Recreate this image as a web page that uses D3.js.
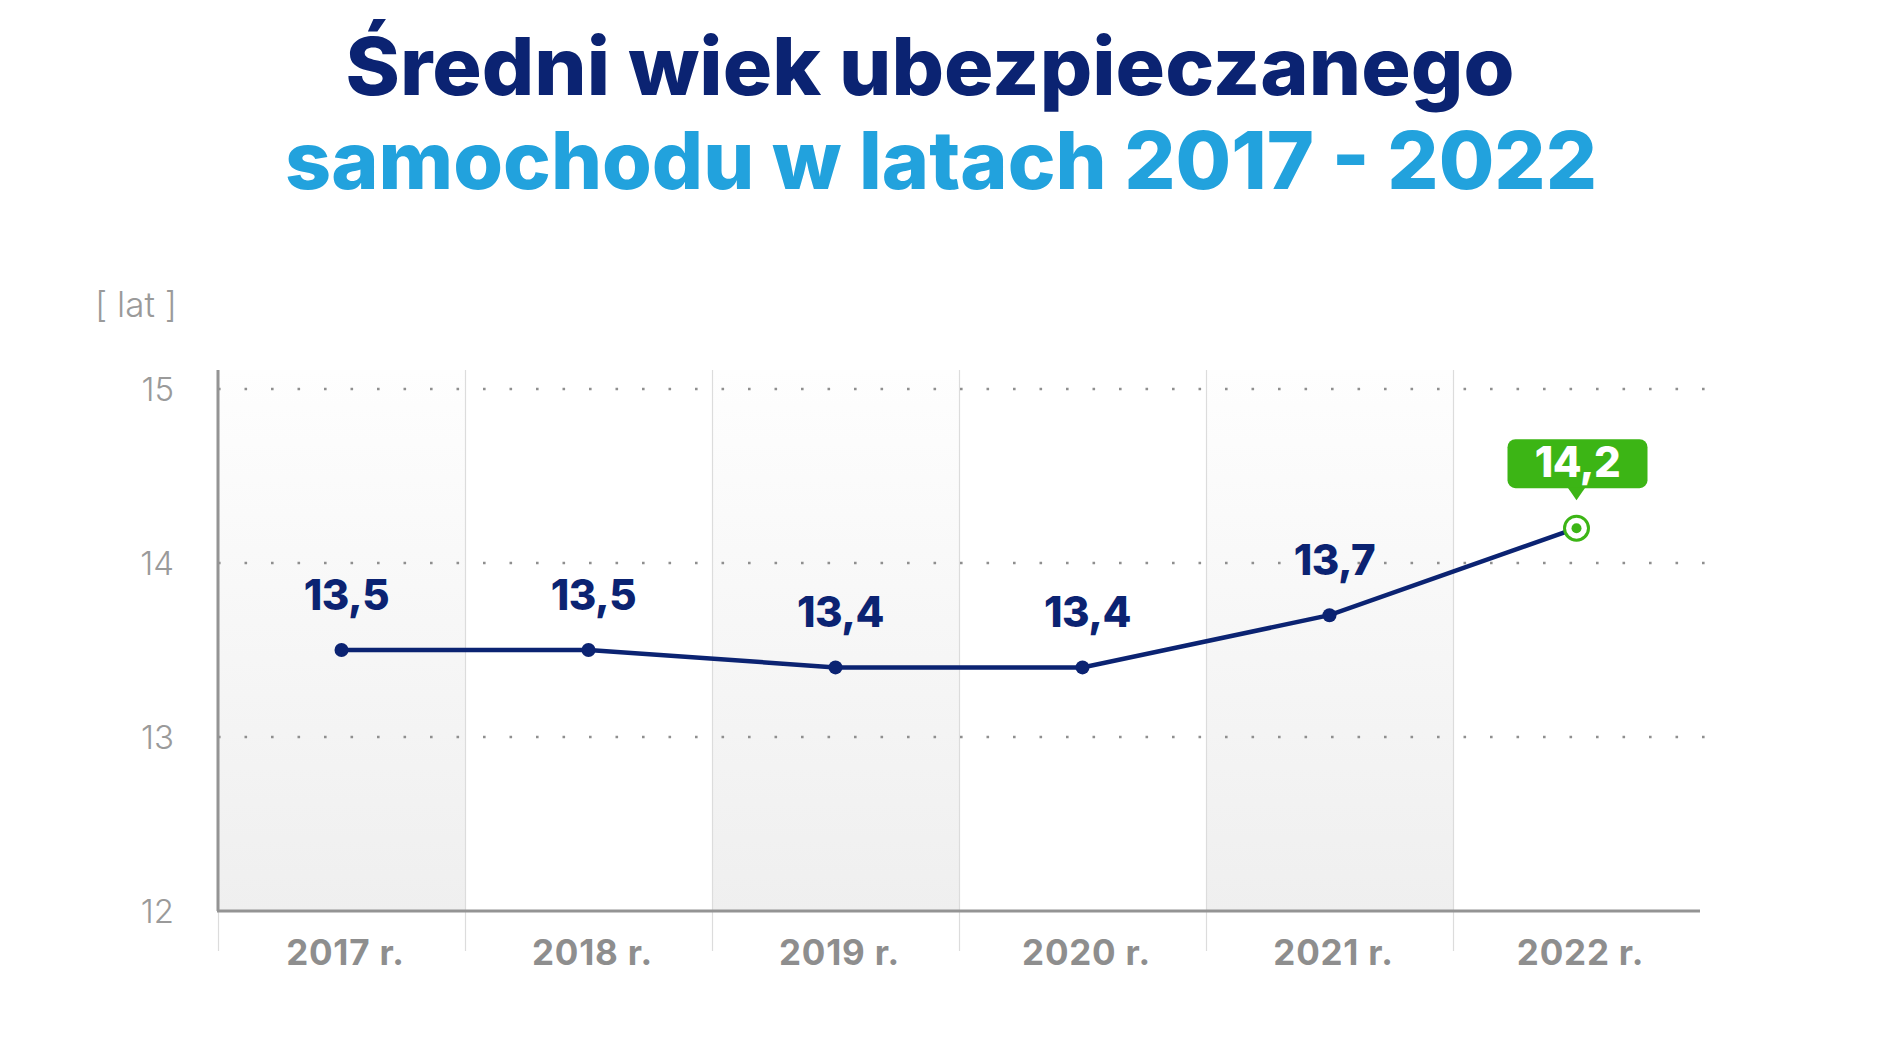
<!DOCTYPE html>
<html>
<head>
<meta charset="utf-8">
<script src="https://cdn.jsdelivr.net/npm/d3@7"></script>
<style>
  body { margin: 0; background: #fff; }
  svg { display: block; font-family: Inter, "Open Sans", sans-serif; }
</style>
</head>
<body>
<div id="chart"></div>
<script>
// dane: sredni wiek ubezpieczanego samochodu
var years = ["2017 r.", "2018 r.", "2019 r.", "2020 r.", "2021 r.", "2022 r."];
var values = [13.5, 13.5, 13.4, 13.4, 13.7, 14.2];
var yTicks = [12, 13, 14, 15];
var gridTicks = [13, 14, 15];

var width = 1880,
	height = 1060;

var navy = "#0b2372",
	blue = "#22a2dd",
	green = "#3cb515",
	grey = "#9a9a9a";

var plLocale = d3.formatLocale({ decimal: ",", thousands: " ", grouping: [3], currency: ["", " zł"] });
var fmt = plLocale.format(".1f");

var svg = d3.select("#chart")
	.append("svg")
	.attr("width", width)
	.attr("height", height);

// title
svg.append("text")
	.attr("x", 930).attr("y", 95)
	.attr("text-anchor", "middle")
	.attr("textLength", 1169).attr("lengthAdjust", "spacingAndGlyphs")
	.style("font-size", "80px").style("font-weight", 800)
	.style("fill", navy)
	.text("Średni wiek ubezpieczanego");

svg.append("text")
	.attr("x", 941).attr("y", 189)
	.attr("text-anchor", "middle")
	.attr("textLength", 1312).attr("lengthAdjust", "spacingAndGlyphs")
	.style("font-size", "80px").style("font-weight", 800)
	.style("fill", blue)
	.text("samochodu w latach 2017 - 2022");

var x = d3.scaleBand()
	.domain(years)
	.range([218, 1700])
	.padding(0);

var y = d3.scaleLinear()
	.domain([12, 15])
	.range([911, 389]);

// gradient for the grey bands
var defs = svg.append("defs");
var grad = defs.append("linearGradient")
	.attr("id", "band")
	.attr("x1", 0).attr("y1", 0).attr("x2", 0).attr("y2", 1);
grad.append("stop").attr("offset", "0%").attr("stop-color", "#fefefe");
grad.append("stop").attr("offset", "100%").attr("stop-color", "#efefef");

svg.selectAll("rect.band")
	.data(years.filter(function(d, i) { return i % 2 == 0; }))
	.enter().append("rect")
	.attr("class", "band")
	.attr("x", function(d) { return x(d); })
	.attr("y", 370)
	.attr("width", x.bandwidth())
	.attr("height", y(12) - 370)
	.style("fill", "url(#band)");

// vertical separators
svg.selectAll("line.sep")
	.data(years)
	.enter().append("line")
	.attr("class", "sep")
	.attr("x1", function(d) { return x(d) + 0.5; })
	.attr("x2", function(d) { return x(d) + 0.5; })
	.attr("y1", 370)
	.attr("y2", 951)
	.style("stroke", "#dcdcdc")
	.style("stroke-width", 1.2);

// dotted grid
svg.selectAll("line.grid")
	.data(gridTicks)
	.enter().append("line")
	.attr("class", "grid")
	.attr("x1", 218).attr("x2", 1708)
	.attr("y1", function(d) { return y(d); })
	.attr("y2", function(d) { return y(d); })
	.style("stroke", "#8f8f8f")
	.style("stroke-width", 2.6)
	.style("stroke-dasharray", "2.6 23.9");

// axes lines
svg.append("line")
	.attr("x1", 218).attr("x2", 218)
	.attr("y1", 370).attr("y2", y(12))
	.style("stroke", "#949494").style("stroke-width", 3);
svg.append("line")
	.attr("x1", 217).attr("x2", 1700)
	.attr("y1", y(12)).attr("y2", y(12))
	.style("stroke", "#949494").style("stroke-width", 3);

// y tick labels
svg.selectAll("text.ytick")
	.data(yTicks)
	.enter().append("text")
	.attr("class", "ytick")
	.attr("x", 174)
	.attr("y", function(d) { return y(d); })
	.attr("dy", "0.36em")
	.attr("text-anchor", "end")
	.style("font-size", "33px").style("font-weight", 300)
	.style("fill", grey)
	.text(function(d) { return d; });

svg.append("text")
	.attr("x", 95).attr("y", 317)
	.style("font-size", "35px").style("font-weight", 300)
	.style("fill", grey)
	.style("white-space", "pre")
	.text("[ lat ]");

// x labels
svg.selectAll("text.xlab")
	.data(years)
	.enter().append("text")
	.attr("class", "xlab")
	.attr("x", function(d) { return x(d) + x.bandwidth() / 2 + 4; })
	.attr("y", 965)
	.attr("text-anchor", "middle")
	.style("font-size", "35px").style("font-weight", 700)
	.style("letter-spacing", "0.8px")
	.style("fill", "#8e8e8e")
	.text(function(d) { return d; });

// line
var pts = years.map(function(d, i) { return { year: d, value: values[i] }; });

var line = d3.line()
	.x(function(d) { return x(d.year) + x.bandwidth() / 2; })
	.y(function(d) { return y(d.value); });

svg.append("path")
	.datum(pts)
	.attr("d", line)
	.style("fill", "none")
	.style("stroke", navy)
	.style("stroke-width", 4.5);

var last = pts.length - 1;

svg.selectAll("circle.pt")
	.data(pts.slice(0, last))
	.enter().append("circle")
	.attr("class", "pt")
	.attr("cx", function(d) { return x(d.year) + x.bandwidth() / 2; })
	.attr("cy", function(d) { return y(d.value); })
	.attr("r", 7)
	.style("fill", navy);

svg.selectAll("text.val")
	.data(pts.slice(0, last))
	.enter().append("text")
	.attr("class", "val")
	.attr("x", function(d) { return x(d.year) + x.bandwidth() / 2 + 5; })
	.attr("y", function(d) { return y(d.value) - 40; })
	.attr("text-anchor", "middle")
	.style("font-size", "42px").style("font-weight", 800)
	.style("letter-spacing", "-0.5px")
	.style("fill", navy)
	.text(function(d) { return fmt(d.value); });

// highlighted last point
var lp = pts[last];
var lx = x(lp.year) + x.bandwidth() / 2;
var ly = y(lp.value);

svg.append("circle")
	.attr("cx", lx).attr("cy", ly).attr("r", 12)
	.style("fill", "#fff").style("stroke", green).style("stroke-width", 3);
svg.append("circle")
	.attr("cx", lx).attr("cy", ly).attr("r", 5)
	.style("fill", green);

var bw = 140, bh = 49, by = ly - 89;
svg.append("rect")
	.attr("x", lx - bw / 2 + 1).attr("y", by)
	.attr("width", bw).attr("height", bh)
	.attr("rx", 8)
	.style("fill", green);
svg.append("path")
	.attr("d", "M" + (lx - 9) + "," + (by + bh - 1) + "L" + lx + "," + (by + bh + 12) + "L" + (lx + 9) + "," + (by + bh - 1) + "Z")
	.style("fill", green);
svg.append("text")
	.attr("x", lx + 1).attr("y", by + 38)
	.attr("text-anchor", "middle")
	.style("font-size", "42px").style("font-weight", 800)
	.style("letter-spacing", "-0.5px")
	.style("fill", "#fff")
	.text(fmt(lp.value));
</script>
</body>
</html>
